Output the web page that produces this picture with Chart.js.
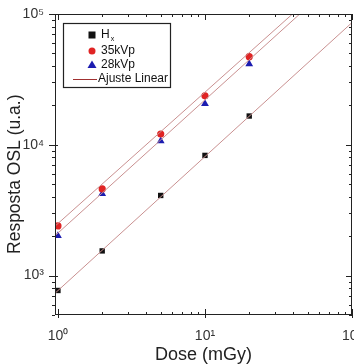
<!DOCTYPE html>
<html>
<head>
<meta charset="utf-8">
<script src="https://cdn.jsdelivr.net/npm/chart.js@4"></script>
<style>
  html, body { margin: 0; padding: 0; background: #fff; overflow: hidden; }
  #wrap { width: 380px; height: 364px; }
</style>
</head>
<body>
<div id="wrap"><canvas id="oslChart" width="380" height="364"></canvas></div>
<script>
// dose values (mGy)
const doses = [1, 2, 5, 10, 20];
// OSL response (a.u.)
const hx = [770, 1545, 4100, 8300, 16600];
const kvp35 = [2400, 4600, 12100, 23700, 47200];
const kvp28 = [2020, 4230, 10700, 20600, 41500];
// linear fit end points (log-log)
const fitX = [0.9, 100];
const fitHx = [690, 86000];
const fit35 = [2250, 255000];
const fit28 = [1900, 230000];

const xTicks = [1, 10, 100];
const xTickLabels = ['10⁰', '10¹', '10²'];
const yTicks = [1000, 10000, 100000];
const yTickLabels = ['10³', '10⁴', '10⁵'];

const pts = (xs, ys) => xs.map((x, i) => ({ x: x, y: ys[i] }));
const minorsOf = (decades) => decades.flatMap(d => [1, 2, 3, 4, 5, 6, 7, 8, 9].map(k => k * d));

const FIT_COLOR = '#c99090';
const font = 'Liberation Sans, Arial, sans-serif';

const frameTicks = {
  id: 'frameTicks',
  afterDraw(chart) {
    const { ctx, chartArea: a, scales: { x, y } } = chart;
    ctx.save();
    ctx.strokeStyle = '#222';
    ctx.lineWidth = 1;
    ctx.strokeRect(a.left + 0.5, a.top + 0.5, a.right - a.left - 1, a.bottom - a.top - 1);
    ctx.beginPath();
    minorsOf([1, 10]).concat([100]).forEach(v => {
      if (v < x.min || v > x.max) return;
      const px = Math.round(x.getPixelForValue(v)) + 0.5;
      const len = xTicks.includes(v) ? 6 : 3;
      ctx.moveTo(px, a.bottom); ctx.lineTo(px, a.bottom - len);
      ctx.moveTo(px, a.top); ctx.lineTo(px, a.top + len);
      if (xTicks.includes(v)) { ctx.moveTo(px, a.bottom); ctx.lineTo(px, a.bottom + 3); }
    });
    minorsOf([100, 1000, 10000]).concat([100000]).forEach(v => {
      if (v < y.min || v > y.max) return;
      const py = Math.round(y.getPixelForValue(v)) + 0.5;
      const len = yTicks.includes(v) ? 6 : 3;
      ctx.moveTo(a.left, py); ctx.lineTo(a.left - len, py);
      ctx.moveTo(a.right, py); ctx.lineTo(a.right - len, py);
      if (yTicks.includes(v)) { ctx.moveTo(a.left, py); ctx.lineTo(a.left + 3, py); }
    });
    ctx.stroke();

    // legend box inside the plot
    const lx = a.left + 8, ly = a.top + 9, lw = 107, lh = 64;
    ctx.fillStyle = '#fff';
    ctx.fillRect(lx, ly, lw, lh);
    ctx.lineWidth = 1.2;
    ctx.strokeRect(lx + 0.5, ly + 0.5, lw, lh);
    const mx = lx + 29, tx = lx + 38;
    const rows = [ly + 12, ly + 28, ly + 42, ly + 56];
    ctx.fillStyle = '#111';
    ctx.fillRect(mx - 3.5, rows[0] - 3.5, 7, 7);
    ctx.fillStyle = '#e02424';
    ctx.beginPath(); ctx.arc(mx, rows[1], 3.5, 0, Math.PI * 2); ctx.fill();
    ctx.fillStyle = '#1c1cb0';
    ctx.beginPath();
    ctx.moveTo(mx, rows[2] - 4.5); ctx.lineTo(mx + 4.5, rows[2] + 3); ctx.lineTo(mx - 4.5, rows[2] + 3);
    ctx.closePath(); ctx.fill();
    ctx.strokeStyle = '#a03030';
    ctx.lineWidth = 1;
    ctx.beginPath(); ctx.moveTo(lx + 10, rows[3] + 0.5); ctx.lineTo(lx + 34, rows[3] + 0.5); ctx.stroke();

    ctx.fillStyle = '#111';
    ctx.textBaseline = 'middle';
    ctx.font = '12px ' + font;
    ctx.fillText('H', tx, rows[0]);
    const hw = ctx.measureText('H').width;
    ctx.font = '7px ' + font;
    ctx.fillText('x', tx + hw + 1, rows[0] + 4);
    ctx.font = '12px ' + font;
    ctx.fillText('35kVp', tx, rows[1]);
    ctx.fillText('28kVp', tx, rows[2]);
    ctx.fillText('Ajuste Linear', tx - 3, rows[3]);
    ctx.restore();
  }
};

const fitLine = (ys) => ({
  data: pts(fitX, ys),
  showLine: true,
  borderColor: FIT_COLOR,
  borderWidth: 1,
  pointRadius: 0
});

new Chart(document.getElementById('oslChart'), {
  type: 'scatter',
  data: {
    datasets: [
      fitLine(fitHx),
      fitLine(fit35),
      fitLine(fit28),
      { label: 'Hx', data: pts(doses, hx), pointStyle: 'rect', pointRadius: 3.8, backgroundColor: '#111', borderColor: '#111', borderWidth: 0 },
      { label: '35kVp', data: pts(doses, kvp35), pointStyle: 'circle', pointRadius: 3.6, backgroundColor: '#e02424', borderColor: '#e02424', borderWidth: 0 },
      { label: '28kVp', data: pts(doses, kvp28), pointStyle: 'triangle', pointRadius: 4.5, backgroundColor: '#1c1cb0', borderColor: '#1c1cb0', borderWidth: 0 }
    ]
  },
  options: {
    responsive: false,
    animation: false,
    layout: { padding: { top: 14, right: 28, left: 5, bottom: 0 } },
    plugins: { legend: { display: false }, tooltip: { enabled: false } },
    scales: {
      x: {
        type: 'logarithmic',
        min: 0.955,
        max: 100,
        grid: { display: false },
        border: { display: false },
        afterBuildTicks: s => { s.ticks = xTicks.map(v => ({ value: v })); },
        afterFit: s => { s.height = 49; },
        ticks: {
          autoSkip: false,
          maxRotation: 0,
          padding: 5,
          color: '#333',
          font: { family: font, size: 14 },
          callback: v => xTickLabels[xTicks.indexOf(v)]
        },
        title: {
          display: true,
          text: 'Dose (mGy)',
          color: '#222',
          font: { family: font, size: 18 },
          padding: { top: 0, bottom: -2 }
        }
      },
      y: {
        type: 'logarithmic',
        min: 500,
        max: 100000,
        grid: { display: false },
        border: { display: false },
        afterBuildTicks: s => { s.ticks = yTicks.map(v => ({ value: v })); },
        afterFit: s => { s.width = 50; },
        ticks: {
          autoSkip: false,
          padding: 3,
          color: '#333',
          font: { family: font, size: 14 },
          callback: v => yTickLabels[yTicks.indexOf(v)]
        },
        title: {
          display: true,
          text: 'Resposta OSL (u.a.)    ',
          color: '#222',
          font: { family: font, size: 17.5 },
          padding: { top: 0, bottom: 0 }
        }
      }
    }
  },
  plugins: [frameTicks]
});
</script>
</body>
</html>
